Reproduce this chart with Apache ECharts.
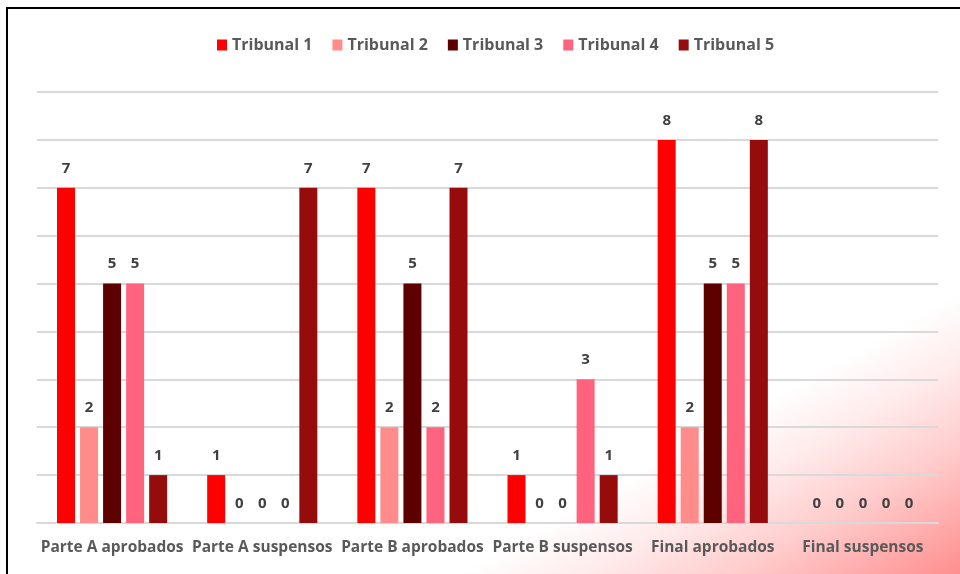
<!DOCTYPE html>
<html>
<head>
<meta charset="utf-8">
<script src="https://cdn.jsdelivr.net/npm/echarts@6/dist/echarts.min.js"></script>
<style>html,body{margin:0;padding:0;background:#fff}#c{width:960px;height:574px}</style>
</head>
<body>
<div id="c"></div>
<script>
const categories = ['Parte A aprobados','Parte A suspensos','Parte B aprobados','Parte B suspensos','Final aprobados','Final suspensos'];
const seriesNames = ['Tribunal 1','Tribunal 2','Tribunal 3','Tribunal 4','Tribunal 5'];
const tribunal1 = [7,1,7,1,8,0];
const tribunal2 = [2,0,2,0,2,0];
const tribunal3 = [5,0,5,0,5,0];
const tribunal4 = [5,0,2,3,5,0];
const tribunal5 = [1,7,7,1,8,0];
const colors = ['#FF0000','#FF8B8B','#5C0000','#FF637D','#960C0C'];
const values = [tribunal1,tribunal2,tribunal3,tribunal4,tribunal5];

const font = '"Open Sans", sans-serif';
const chart = echarts.init(document.getElementById('c'));
chart.setOption({
  backgroundColor: {
    type: 'linear', x: 840, y: 360, x2: 960, y2: 574, global: true,
    colorStops: [
      {offset: 0, color: '#ffffff'},
      {offset: 0.25, color: '#FFEBEB'},
      {offset: 0.55, color: '#FFCCCC'},
      {offset: 1, color: '#FF8E8E'}
    ]
  },
  animation: false,
  color: colors,
  legend: {
    top: 32, left: 212, itemWidth: 10, itemHeight: 11, itemGap: 20,
    icon: 'rect',
    textStyle: {color: '#595959', fontSize: 16, fontWeight: 'bold', fontFamily: font}
  },
  grid: {left: 37, right: 22, top: 92, bottom: 51},
  xAxis: {
    type: 'category', data: categories,
    axisLine: {lineStyle: {color: '#D9D9D9', width: 2}},
    axisTick: {show: false},
    axisLabel: {color: '#595959', fontSize: 15.5, fontWeight: 'bold', fontFamily: font, margin: 17, interval: 0}
  },
  yAxis: {
    type: 'value', min: 0, max: 9, interval: 1,
    axisLabel: {show: false},
    axisLine: {show: false}, axisTick: {show: false},
    splitLine: {lineStyle: {color: '#D9D9D9', width: 2}}
  },
  series: seriesNames.map((n, i) => ({
    name: n, type: 'bar', data: values[i], barWidth: 18, barGap: '28%',
    itemStyle: {color: colors[i]},
    label: {show: true, position: 'top', distance: 12, color: '#404040', fontSize: 15, fontWeight: 'bold', fontFamily: font}
  })),
  graphic: [{
    type: 'polyline', silent: true,
    shape: {points: [[7, 574], [7, 8], [960, 8]]},
    style: {stroke: '#000', lineWidth: 2, fill: null}
  }]
});
</script>
</body>
</html>
